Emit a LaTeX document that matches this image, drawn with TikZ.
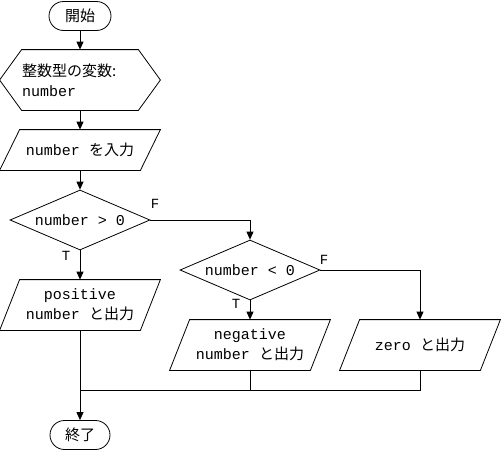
\documentclass[tikz,border=0pt]{standalone}
\usepackage{fontspec}
\setmainfont{Liberation Mono}
\newfontfamily\jpf{Noto Sans CJK JP}
\usetikzlibrary{arrows.meta,shapes.geometric,calc}
\newcommand\parad[1]{\draw ($(#1.north west)+(20,0)$) -- (#1.north east) -- ($(#1.south east)+(-20,0)$) -- (#1.south west) -- cycle;}
\begin{document}
\begin{tikzpicture}[x=1pt,y=-1pt,line width=0.8pt,
  every node/.style={font=\fontsize{15}{20}\selectfont, inner sep=0pt},
  term/.style={draw, rounded corners=14.5pt, minimum width=62pt, minimum height=29pt},
  box/.style={minimum width=160pt, minimum height=#1, align=center},
  dia/.style={draw, diamond, aspect=2.33, minimum width=140pt, minimum height=60pt},
  arr/.style={-{Triangle[length=8pt,width=7pt]}},
  lbl/.style={font=\fontsize{14}{16}\selectfont}
]
\useasboundingbox (0,0) rectangle (501,451);
\node[term] (start) at (80,16) {\jpf 開始};
\node[minimum height=60pt, inner xsep=22pt, text width=116pt, align=left] (decl) at (80,80) {{\jpf 整数型の変数:}\\number};
\draw ($(decl.north west)+(22,0)$) -- ($(decl.north east)+(-22,0)$) -- (decl.east) -- ($(decl.south east)+(-22,0)$) -- ($(decl.south west)+(22,0)$) -- (decl.west) -- cycle;
\node[box=40pt] (inp) at (80,150) {number {\jpf を入力}};
\parad{inp}
\node[dia] (d1) at (80,220) {number > 0};
\node[box=50pt] (pos) at (80,305) {positive\\number {\jpf と出力}};
\parad{pos}
\node[dia] (d2) at (250,270) {number < 0};
\node[box=50pt] (neg) at (250,345) {negative\\number {\jpf と出力}};
\parad{neg}
\node[box=50pt] (zero) at (420,345) {zero {\jpf と出力}};
\parad{zero}
\node[term, minimum width=60pt] (end) at (80,435) {\jpf 終了};
\coordinate (mL) at (80,390);
\node[lbl] (f1) at (155,204) {F};
\node[lbl] (t1) at (66,256) {T};
\node[lbl] (f2) at (324,260) {F};
\node[lbl] (t2) at (236,304) {T};
\draw[arr] (start) -- (decl);
\draw[arr] (decl) -- (inp);
\draw[arr] (inp) -- (d1);
\draw[arr] (d1.south) -- (pos.north);
\draw[arr] (d1.east) -| (d2.north);
\draw[arr] (d2.south) -- (neg.north);
\draw[arr] (d2.east) -| (zero.north);
\draw[arr] (pos.south) -- (end.north);
\draw (neg.south) |- (mL);
\draw (zero.south) |- (mL);
\end{tikzpicture}
\end{document}
